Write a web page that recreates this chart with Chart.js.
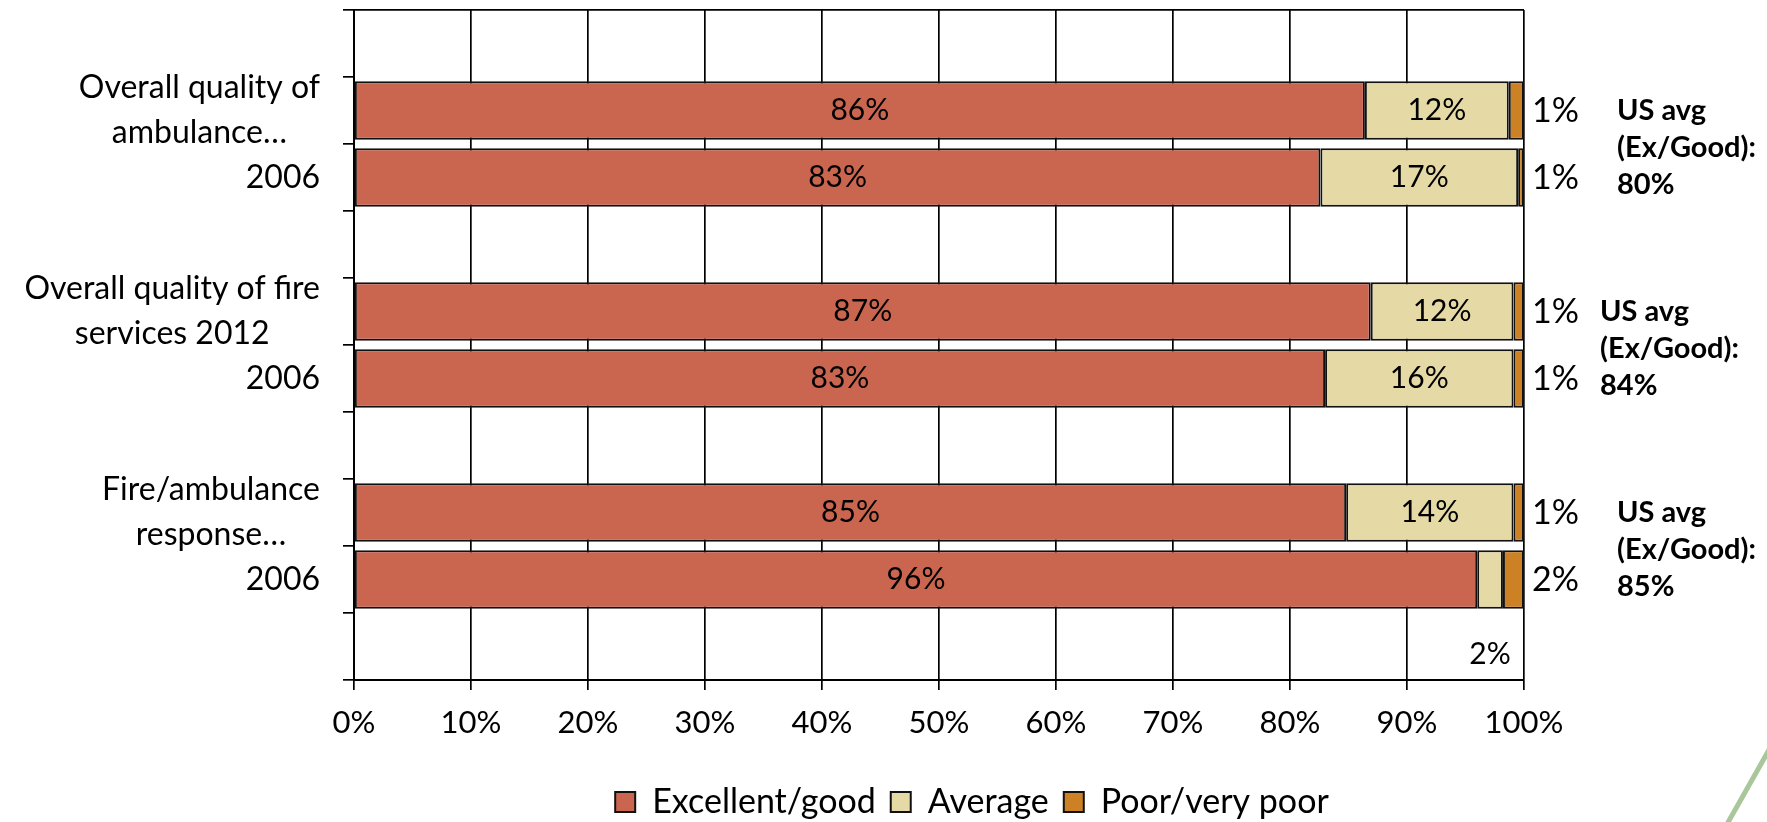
<!DOCTYPE html>
<html><head><meta charset="utf-8">
<script src="https://cdn.jsdelivr.net/npm/chart.js@4"></script>
<style>html,body{margin:0;padding:0;background:#fff;}#wrap{width:1767px;height:822px;}</style>
</head><body><div id="wrap"><canvas id="c" width="1767" height="822"></canvas></div>
<script>
// ---- data ----
const categories = [
  "", ["Overall quality of", "ambulance…"], "2006", "",
  ["Overall quality of fire", "services 2012"], "2006", "",
  ["Fire/ambulance", "response…"], "2006", ""
];
const seriesNames = ["Excellent/good", "Average", "Poor/very poor"];
const excellentGood = [null, 86.4, 82.6, null, 86.9, 83.0, null, 84.8, 96.0, null];
const average       = [null, 12.3, 16.9, null, 12.2, 16.1, null, 14.3, 2.2, null];
const poorVeryPoor  = [null, 1.3, 0.5, null, 0.9, 0.9, null, 0.9, 1.8, null];
const xTickValues = [0, 10, 20, 30, 40, 50, 60, 70, 80, 90, 100];
const usAvgRows = [1, 4, 7];          // first category of each group
const usAvgExGood = [80, 84, 85];
const usAvgLines = ["US avg", "(Ex/Good):"];

// ---- styles ----
const FONT = "Lato, 'Open Sans', sans-serif";
const COLORS = ['#CA6550', '#E5D9A6', '#CC8224'];
Chart.defaults.font.family = FONT;
Chart.defaults.color = '#000';

const yLabelPlugin = {
  id: 'yLabels',
  afterDraw(chart) {
    const {ctx} = chart, ys = chart.scales.y;
    ctx.save();
    ctx.font = '32px ' + FONT;
    ctx.fillStyle = '#000';
    ctx.textAlign = 'center';
    ctx.textBaseline = 'middle';
    categories.forEach((lab, i) => {
      if (!lab) return;
      const lines = Array.isArray(lab) ? lab : [lab];
      const y = ys.getPixelForValue(i);
      const maxW = Math.max(...lines.map(l => ctx.measureText(l).width));
      const cx = ys.right - 34 - maxW / 2;
      lines.forEach((l, j) => ctx.fillText(l, cx, y + (j - (lines.length - 1) / 2) * 45));
    });
    ctx.restore();
  }
};

const valueLabelPlugin = {
  id: 'valueLabels',
  afterDatasetsDraw(chart) {
    const {ctx, chartArea} = chart;
    ctx.save();
    ctx.fillStyle = '#000';
    ctx.textBaseline = 'middle';
    chart.data.datasets.forEach((ds, di) => {
      const meta = chart.getDatasetMeta(di);
      meta.data.forEach((el, i) => {
        const v = ds.data[i];
        if (v == null) return;
        const txt = Math.round(v) + '%';
        const p = el.getProps(['x', 'y', 'base'], true);
        if (di === 2) {
          ctx.font = '34px ' + FONT;
          ctx.textAlign = 'left';
          ctx.fillText(txt, chartArea.right + 8, p.y + 1);
        } else if (v < 5) {
          ctx.font = '30px ' + FONT;
          ctx.textAlign = 'center';
          ctx.fillText(txt, (p.x + p.base) / 2, p.y + 75);
        } else {
          ctx.font = '30px ' + FONT;
          ctx.textAlign = 'center';
          ctx.fillText(txt, (p.x + p.base) / 2, p.y);
        }
      });
    });
    // US average notes
    const ys = chart.scales.y;
    const xOff = [93, 76, 93];
    ctx.font = 'bold 29px ' + FONT;
    ctx.textAlign = 'left';
    usAvgRows.forEach((row, k) => {
      const y0 = ys.getPixelForValue(row);
      const lines = usAvgLines.concat([usAvgExGood[k] + '%']);
      lines.forEach((t, j) => ctx.fillText(t, chartArea.right + xOff[k], y0 + j * 37));
    });
    ctx.restore();
  }
};

const legendShiftPlugin = {
  id: 'legendShift',
  afterLayout(chart) {
    const L = chart.legend, ca = chart.chartArea;
    const target = (ca.left + ca.right) / 2 + 33;
    const dx = target - (L.left + L.right) / 2;
    L.left += dx; L.right += dx;
  }
};

const decoPlugin = {
  id: 'deco',
  afterDraw(chart) {
    const {ctx} = chart;
    ctx.save();
    ctx.strokeStyle = '#A9C79B';
    ctx.lineWidth = 5;
    ctx.beginPath();
    ctx.moveTo(1726, 826);
    ctx.lineTo(1770, 748);
    ctx.stroke();
    ctx.restore();
  }
};

const mk = (label, data, color) => ({
  label, data, backgroundColor: color, borderColor: '#111',
  borderWidth: 2, borderSkipped: false,
  barPercentage: 0.87, categoryPercentage: 1
});

new Chart(document.getElementById('c'), {
  type: 'bar',
  data: {
    labels: categories,
    datasets: [
      mk(seriesNames[0], excellentGood, COLORS[0]),
      mk(seriesNames[1], average, COLORS[1]),
      mk(seriesNames[2], poorVeryPoor, COLORS[2])
    ]
  },
  options: {
    indexAxis: 'y',
    responsive: false,
    animation: false,
    layout: {padding: {left: 0, right: 243, top: 10, bottom: -7}},
    scales: {
      x: {
        stacked: true, min: 0, max: 100,
        afterBuildTicks: s => { s.ticks = xTickValues.map(v => ({value: v})); },
        ticks: {callback: v => v + '%', font: {size: 31}, padding: 14, maxRotation: 0, autoSkip: false, color: '#000'},
        grid: {color: '#000', lineWidth: 1.7, tickLength: 10, tickColor: '#000'},
        border: {color: '#000', width: 2},
        afterFit: s => { s.height = 90; }
      },
      y: {
        stacked: true,
        ticks: {display: false},
        grid: {
          color: c => c.index === 0 ? '#000' : 'rgba(0,0,0,0)',
          tickColor: '#000', lineWidth: 1.7, tickLength: 11, drawOnChartArea: true
        },
        border: {color: '#000', width: 2},
        afterFit: s => { s.width = 354; }
      }
    },
    plugins: {
      legend: {
        position: 'bottom',
        labels: {boxWidth: 20, boxHeight: 20, font: {size: 34}, padding: 15, color: '#000'}
      },
      tooltip: {enabled: false}
    }
  },
  plugins: [yLabelPlugin, valueLabelPlugin, legendShiftPlugin, decoPlugin]
});
</script></body></html>
